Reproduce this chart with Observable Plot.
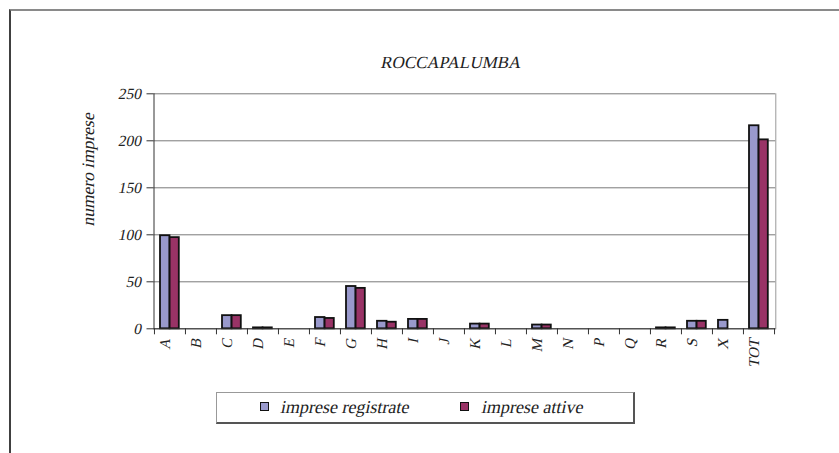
<!DOCTYPE html>
<html>
<head>
<meta charset="utf-8">
<script src="https://cdn.jsdelivr.net/npm/d3@7"></script>
<script src="https://cdn.jsdelivr.net/npm/@observablehq/plot@0.6"></script>
<style>
  html, body { margin: 0; padding: 0; background: #fff; overflow: hidden; }
  #wrap { position: relative; width: 839px; height: 453px; overflow: hidden; font-family: "Liberation Serif", serif; }
  #frame { position: absolute; left: 9px; top: 9px; width: 900px; height: 500px; border-top: 2px solid #8a8a8a; border-left: 2px solid #404040; }
  #legend { position: absolute; left: 216px; top: 392px; width: 416px; height: 29px; border: 1px solid #999; border-right: 2px solid #555; border-bottom: 2px solid #555; background: #fff; }
  .sw { position: absolute; top: 9px; width: 7px; height: 7px; border: 1.5px solid #111; }
  .lt { position: absolute; top: 4px; font-size: 18px; line-height: 20px; color: #222; white-space: nowrap; font-family: "Liberation Serif", serif; font-style: normal; transform: skewX(-12deg); transform-origin: 0 80%; }
  svg { position: absolute; left: 0; top: 0; }
</style>
</head>
<body>
<div id="wrap">
  <div id="frame"></div>
</div>
<script>
const title = "ROCCAPALUMBA";
const yLabel = "numero imprese";
const categories = ["A","B","C","D","E","F","G","H","I","J","K","L","M","N","P","Q","R","S","X","TOT"];
const registrate = [99,0,14,1,0,12,45,8,10,0,5,0,4,0,0,0,1,8,9,216];
const attive     = [97,0,14,1,0,11,43,7,10,0,5,0,4,0,0,0,1,8,0,201];
const seriesNames = ["imprese registrate", "imprese attive"];
const seriesColors = ["#9999cc", "#993366"];
const yTicks = [0, 50, 100, 150, 200, 250];

const W = 839, H = 453;
const mL = 153.5, mR = 63.7, mT = 93.3, mB = 124.7;
const bw = (W - mL - mR) / categories.length;
const serif = "Liberation Serif";

const rows = categories.map((c, i) => ({cat: c, reg: registrate[i], att: attive[i]}));

const chart = Plot.plot({
  width: W, height: H,
  marginLeft: mL, marginRight: mR, marginTop: mT, marginBottom: mB,
  style: {fontFamily: serif, fontSize: "15px", color: "#222", background: "transparent"},
  x: {domain: categories, padding: 0, axis: null},
  y: {domain: [0, 250], axis: null},
  marks: [
    Plot.gridY(yTicks, {stroke: "#7a7a7a", strokeOpacity: 1, strokeWidth: 1}),
    Plot.frame({anchor: "right", stroke: "#999"}),
    Plot.barY(rows, {x: "cat", y: "reg", fill: seriesColors[0], stroke: "#111", strokeWidth: 1.8, insetLeft: 6, insetRight: bw - 15.6}),
    Plot.barY(rows, {x: "cat", y: "att", fill: seriesColors[1], stroke: "#111", strokeWidth: 1.8, insetLeft: 15.6, insetRight: 6.2}),
    Plot.ruleY([0], {stroke: "#333", strokeWidth: 1}),
    Plot.frame({anchor: "left", stroke: "#333", strokeWidth: 1}),
    Plot.ruleX(categories, {x: d => d, dx: -bw / 2, y1: 0, y2: 0, insetBottom: -6, stroke: "#333"}),
    Plot.ruleX([categories[categories.length - 1]], {x: d => d, dx: bw / 2, y1: 0, y2: 0, insetBottom: -6, stroke: "#333"}),
    Plot.axisY(yTicks, {anchor: "left", tickSize: 7, tickPadding: 5, stroke: "#333", label: null, fontSize: 15.5, fontFamily: serif, fill: "#222"}),
    Plot.text(categories, {x: d => d, frameAnchor: "bottom", dy: 10, rotate: -90, textAnchor: "end", fontSize: 15, fill: "#222", fontFamily: serif}),
    Plot.text([title], {frameAnchor: "top", dx: -12, dy: -38.3, fontSize: 17, fill: "#222", fontFamily: serif}),
    Plot.text([yLabel], {frameAnchor: "left", dx: -65.5, dy: 14, rotate: -90, fontSize: 17.5, fill: "#222", fontFamily: serif})
  ]
});

// Simulated italic (serif italic faces fall back to sans in this environment)
chart.querySelectorAll("text").forEach(t => {
  const tr = t.getAttribute("transform");
  if (tr) {
    t.setAttribute("transform", tr + " skewX(-12)");
  } else {
    const x = t.getAttribute("x") || 0, y = t.getAttribute("y") || 0;
    t.removeAttribute("x"); t.removeAttribute("y");
    t.setAttribute("transform", `translate(${x},${y}) skewX(-12)`);
  }
});
document.getElementById("wrap").appendChild(chart);

const legend = document.createElement("div");
legend.id = "legend";
const swX = [43, 243], txX = [63, 264];
seriesNames.forEach((name, i) => {
  const sw = document.createElement("div");
  sw.className = "sw";
  sw.style.left = swX[i] + "px";
  sw.style.background = seriesColors[i];
  legend.appendChild(sw);
  const t = document.createElement("div");
  t.className = "lt";
  t.style.left = txX[i] + "px";
  t.textContent = name;
  legend.appendChild(t);
});
document.getElementById("wrap").appendChild(legend);
</script>
</body>
</html>
